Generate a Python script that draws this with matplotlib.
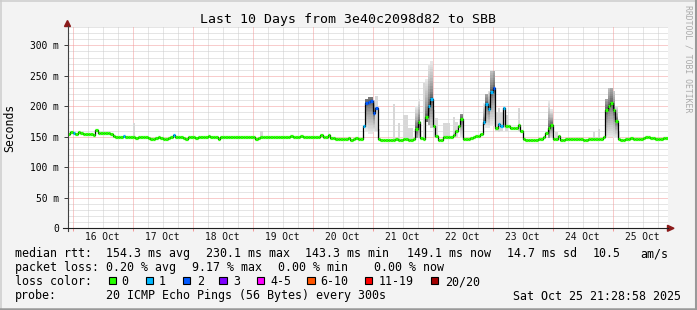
import numpy as np
import matplotlib
matplotlib.use('Agg')
import matplotlib.pyplot as plt
from matplotlib.patches import Rectangle, Polygon
from matplotlib.lines import Line2D

plt.rcParams['font.family'] = 'DejaVu Sans Mono'

W, H = 697, 310

# median rtt (ms), one value per hour, one row per day (graph starts Oct 15 22:00)
median_rows = [
  [155, 158, 157, 154, 158, 156, 155, 155, 155, 154, 153, 161, 157, 157, 157, 156, 156, 155, 152, 149, 149, 150, 151, 150],
  [150, 150, 149, 148, 150, 150, 149, 150, 148, 147, 147, 148, 149, 148, 147, 147, 148, 150, 153, 150, 149, 150, 148, 147],
  [149, 150, 149, 148, 149, 150, 149, 150, 151, 150, 149, 150, 147, 149, 150, 149, 149, 150, 150, 149, 150, 150, 150, 149],
  [150, 150, 149, 147, 148, 150, 149, 150, 150, 150, 150, 149, 150, 149, 150, 150, 150, 151, 150, 149, 150, 151, 150, 149],
  [149, 150, 150, 149, 149, 153, 150, 150, 153, 148, 148, 147, 147, 147, 146, 147, 148, 145, 147, 148, 147, 147, 167, 206],
  [207, 208, 189, 198, 147, 145, 144, 145, 145, 145, 145, 146, 144, 144, 146, 146, 145, 145, 147, 163, 174, 148, 147, 182],
  [200, 212, 167, 151, 145, 145, 149, 149, 149, 150, 153, 159, 167, 180, 147, 147, 147, 148, 149, 151, 151, 154, 174, 204],
  [196, 224, 230, 164, 171, 167, 197, 167, 167, 165, 165, 165, 169, 159, 146, 145, 145, 145, 145, 145, 147, 147, 150, 157],
  [164, 170, 147, 147, 151, 145, 145, 147, 147, 146, 146, 146, 146, 146, 144, 144, 147, 146, 146, 146, 146, 146, 150, 194],
  [200, 206, 194, 176, 147, 145, 145, 147, 147, 148, 147, 147, 147, 147, 148, 150, 149, 148, 148, 147, 147, 147, 148, 148],
]

# hours with lost pings (all other hours lost none)
loss_hours = [2, 22, 42, 118, 119, 120, 121, 122, 123, 144, 145, 166, 167, 168, 169, 170, 172, 173, 174]
loss_counts = [1, 1, 1, 1, 2, 2, 2, 2, 2, 1, 1, 1, 1, 1, 1, 2, 1, 1, 1]

# hours with a wide spread of ping times (dense smoke)
spread_hours = [119, 120, 121, 122, 139, 140, 143, 144, 145, 157, 166, 167, 168, 169, 170, 192, 193, 215, 216, 217, 218, 219]
spread_lo = [160, 155, 155, 158, 148, 148, 175, 170, 165, 148, 170, 165, 165, 168, 168, 148, 148, 148, 150, 150, 148, 148]
spread_hi = [212, 215, 215, 210, 200, 212, 245, 270, 274, 188, 205, 220, 225, 258, 258, 208, 195, 212, 230, 230, 225, 200]

# hours with a few outlying pings (light smoke)
outlier_hours = [26, 77, 123, 124, 130, 132, 134, 135, 136, 137, 142, 146, 147, 150, 151, 152, 154, 155,
                 171, 172, 173, 174, 175, 180, 195, 210, 212, 220]
outlier_lo = [148, 149, 159, 147, 145, 144, 146, 146, 145, 145, 147, 150, 148, 146, 146, 146, 150, 150,
              160, 158, 160, 165, 160, 160, 146, 146, 146, 146]
outlier_hi = [173, 159, 217, 162, 203, 172, 186, 186, 164, 164, 238, 194, 180, 172, 172, 172, 183, 175,
              190, 197, 190, 200, 185, 197, 158, 158, 162, 160]

day_labels = ['16 Oct', '17 Oct', '18 Oct', '19 Oct', '20 Oct', '21 Oct', '22 Oct', '23 Oct', '24 Oct', '25 Oct']
y_ticks = [0, 50, 100, 150, 200, 250, 300]

loss_names = ['0', '1', '2', '3', '4-5', '6-10', '11-19', '20/20']
loss_colors = ['#26ff00', '#00b8ff', '#0059ff', '#7e00ff', '#ff00ff', '#ff5500', '#ff0000', '#a10000']

median = np.array(sum(median_rows, []), dtype=float)
n = len(median)
loss = np.zeros(n, dtype=int)
loss[loss_hours] = loss_counts


def loss_bucket(c):
  if c <= 3:
    return c
  if c <= 5:
    return 4
  if c <= 10:
    return 5
  if c <= 19:
    return 6
  return 7


def fx(x):
  return x / W


def fy(y):
  return 1 - y / H


X0, X1, Y0, Y1 = 67.5, 667.5, 228.3, 27.0

fig = plt.figure(figsize=(W / 100, H / 100), dpi=100, facecolor='#f3f3f3')
ax = fig.add_axes([fx(X0), fy(Y0), (X1 - X0) / W, (Y0 - Y1) / H])
ax.set_facecolor('white')
ax.set_xlim(0, n)
ax.set_ylim(0, 330)
for s in ax.spines.values():
  s.set_visible(False)

# grid (dotted)
major_x = np.arange(2, n, 24)
minor_x = [x for x in np.arange(2, n, 6) if (x - 2) % 24 != 0]
minor_y = [y for y in np.arange(10, 331, 10) if y % 50 != 0]
grid_kw = dict(lw=0.72, linestyles=(0, (1, 1)))
ax.vlines(minor_x, 0, 330, colors='#cccccc', zorder=0, **grid_kw)
ax.hlines(minor_y, 0, n, colors='#cccccc', zorder=0, **grid_kw)
ax.vlines(major_x, 0, 330, colors='#f29a9a', zorder=0.5, **grid_kw)
ax.hlines(y_ticks[1:], 0, n, colors='#f29a9a', zorder=0.5, **grid_kw)

# light smoke
ax.bar(outlier_hours, np.array(outlier_hi) - np.array(outlier_lo), bottom=outlier_lo,
       width=1, align='edge', color='#d8d8d8', lw=0, zorder=1)

# dense smoke, darker close to the median
for h, lo, hi in zip(spread_hours, spread_lo, spread_hi):
  m = median[h]
  edges = np.linspace(lo, hi, 25)
  far = max(hi - m, m - lo, 1)
  for a, b in zip(edges[:-1], edges[1:]):
    d = min(abs((a + b) / 2 - m) / far, 1)
    g = 0.3 + 0.62 * d ** 0.6
    ax.bar(h, b - a, bottom=a, width=1, align='edge', color=(g, g, g), lw=0, zorder=2)

# median line: black steps, then loss-coloured segments
hrs = np.arange(n + 1)
ax.plot(hrs, np.append(median, median[-1]), drawstyle='steps-post', color='black', lw=0.9, zorder=3)
cols = [loss_colors[loss_bucket(c)] for c in loss]
ax.hlines(median, np.arange(n), np.arange(n) + 1, colors=cols, lw=2.3, zorder=4, capstyle='butt')

# ticks
ax.set_yticks(y_ticks, ['0'] + ['%d m' % v for v in y_ticks[1:]])
ax.tick_params(axis='y', length=3, width=0.72, color='#404040', pad=3, labelsize=6.9)
ax.set_xticks(major_x, [])
ax.tick_params(axis='x', length=2, width=0.72, color='#f29a9a')
for i, lab in enumerate(day_labels):
  fig.text(fx(X0 + (14 + 24 * i) * (X1 - X0) / n), fy(240.5), lab, ha='center', va='baseline', size=6.9, color='#111111')

# axes lines and arrows
fig.add_artist(Line2D([fx(X0), fx(X0)], [fy(231), fy(26)], color='#404040', lw=0.8))
fig.add_artist(Line2D([fx(63), fx(668)], [fy(Y0), fy(Y0)], color='#202020', lw=0.8))
fig.add_artist(Polygon([(fx(X0 - 3), fy(26.5)), (fx(X0 + 3), fy(26.5)), (fx(X0), fy(20.5))],
                       closed=True, color='#8b1a1a', transform=fig.transFigure))
fig.add_artist(Polygon([(fx(667.5), fy(Y0 - 3)), (fx(667.5), fy(Y0 + 3)), (fx(674), fy(Y0))],
                       closed=True, color='#8b1a1a', transform=fig.transFigure))

# titles
fig.text(fx(347.5), fy(23.3), 'Last 10 Days from 3e40c2098d82 to SBB', ha='center', va='baseline', size=9.5)
fig.text(fx(10), fy(127.5), 'Seconds', rotation=90, ha='center', va='center', size=8.3)
fig.text(fx(688), fy(59), 'RRDTOOL / TOBI OETIKER', rotation=270, ha='center', va='center', size=5.9, color='#aaaaaa')

# legend
LS = 8.37
rows = [
  (257.2, [('median rtt:', 16), ('154.3 ms avg', 106.7), ('230.1 ms max', 207), ('143.3 ms min', 306),
           ('149.1 ms now', 408), ('14.7 ms sd', 507.7), ('10.5', 593.3), ('am/s', 641.7)]),
  (271.3, [('packet loss:', 16), ('0.20 % avg', 106.7), ('9.17 % max', 193), ('0.00 % min', 279),
           ('0.00 % now', 375)]),
  (285.3, [('loss color:', 16)]),
  (299.5, [('probe:', 16), ('20 ICMP Echo Pings (56 Bytes) every 300s', 106.7)]),
]
for yb, items in rows:
  for txt, x in items:
    fig.text(fx(x - 1), fy(yb), txt, ha='left', va='baseline', size=LS)
fig.text(fx(681), fy(299.5), 'Sat Oct 25 21:28:58 2025', ha='right', va='baseline', size=LS)

box_x = [108.7, 146, 182.7, 219.3, 256.7, 307.3, 365, 430.7]
lab_x = [122.3, 160, 197.7, 234.3, 271.7, 321.7, 380, 446]
for c, name, bx, lx in zip(loss_colors, loss_names, box_x, lab_x):
  fig.add_artist(Rectangle((fx(bx), fy(284)), 7.3 / W, 7.3 / H, transform=fig.transFigure,
                           facecolor=c, edgecolor='black', lw=0.8))
  fig.text(fx(lx - 1), fy(285.3), name, ha='left', va='baseline', size=LS)

# frame
fig.add_artist(Line2D([0, 1], [fy(0.75), fy(0.75)], color='#cccccc', lw=1.1))
fig.add_artist(Line2D([fx(0.75), fx(0.75)], [0, 1], color='#cccccc', lw=1.1))
fig.add_artist(Line2D([0, 1], [fy(H - 1.2), fy(H - 1.2)], color='#999999', lw=1.8))
fig.add_artist(Line2D([fx(W - 1), fx(W - 1)], [0, 1], color='#999999', lw=1.5))

fig.savefig('out.png', dpi=100, facecolor=fig.get_facecolor())
